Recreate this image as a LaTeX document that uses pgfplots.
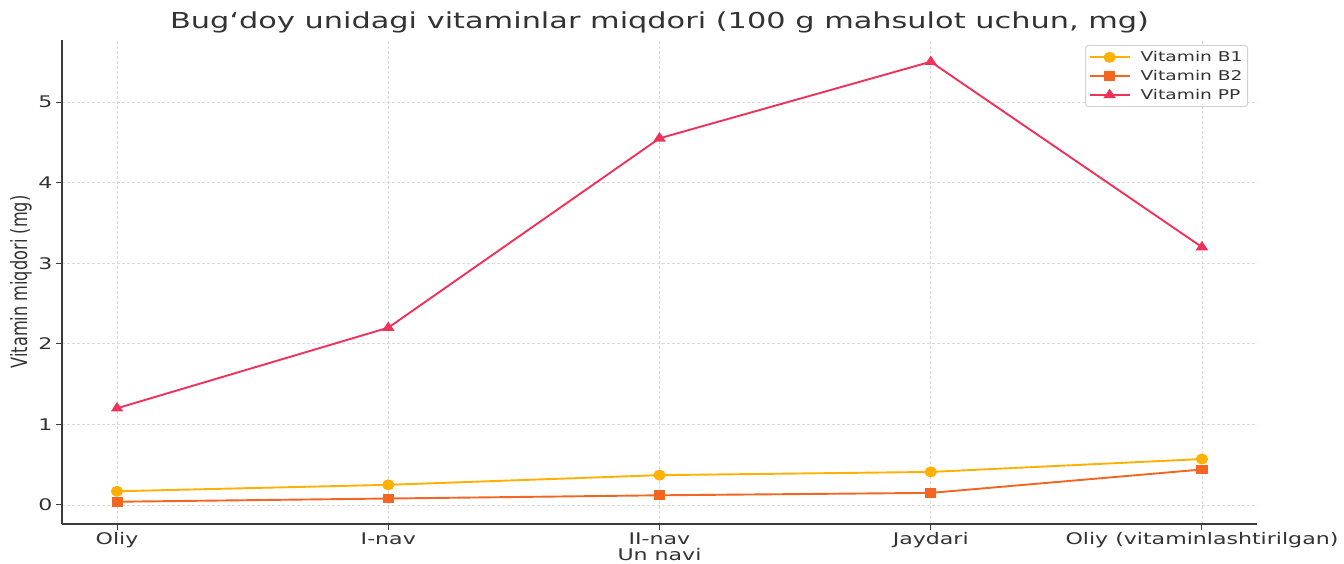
\documentclass[border=0pt]{standalone}
\usepackage{pgfplots}
\pgfplotsset{compat=1.18}
\usepackage{graphicx}
\usepackage{fontspec}
\setmainfont[FakeStretch=1.38]{DejaVu Sans}
\newfontfamily\plainfont{DejaVu Sans}
\definecolor{cB}{RGB}{255,176,0}
\definecolor{cBB}{RGB}{242,102,34}
\definecolor{cPP}{RGB}{240,50,90}
\definecolor{ax}{RGB}{60,60,60}
\begin{document}
\begin{tikzpicture}
\begin{axis}[
  scale only axis, width=1195pt, height=484pt,
  xmin=-0.203, xmax=4.203, ymin=-0.236, ymax=5.77,
  axis x line*=bottom, axis y line*=left,
  axis line style={ax, line width=1.8pt},
  xtick={0,1,2,3,4},
  xticklabels={Oliy,I-nav,II-nav,Jaydari,Oliy (vitaminlashtirilgan)},
  ytick={0,1,2,3,4,5},
  tick align=outside, tick style={ax, line width=1pt}, major tick length=6pt,
  grid=major, grid style={dash pattern=on 3pt off 2pt, gray!30, line width=0.8pt},
  ticklabel style={font=\fontsize{16}{19}\selectfont, text=black!80},
  xticklabel style={yshift=1pt},
  /pgf/number format/assume math mode=true,
  xlabel={Un navi}, ylabel={\scalebox{1}[1.38]{\plainfont Vitamin miqdori (mg)}},
  label style={font=\fontsize{16}{19}\selectfont, text=black!80},
  xlabel style={at={(axis description cs:0.5,-0.064)}, anchor=center},
  ylabel style={at={(axis description cs:-0.0343,0.5)}, anchor=center, font=\fontsize{16.2}{19}\selectfont},
  title={Bug‘doy unidagi vitaminlar miqdori (100 g mahsulot uchun, mg)},
  title style={font=\fontsize{22}{25}\selectfont, text=black!80, at={(axis description cs:0.5,1)}, anchor=base, yshift=5pt},
  legend style={font=\fontsize{13.5}{16}\selectfont, draw=gray!35, rounded corners=3pt, line width=1pt, at={(axis description cs:0.9925,0.9897)}, anchor=north east, row sep=3pt, inner xsep=3pt, inner ysep=4pt, text=black!80},
  legend cell align=left,
  legend image code/.code={\draw[#1, mark repeat=2, mark phase=2] plot coordinates {(0pt,0pt) (20pt,0pt) (40pt,0pt)}; \path (48pt,0pt);},
  every axis plot/.append style={line width=1.9pt},
]
\addplot[cB, mark=*, mark size=4.5pt, mark options={xscale=1.15}] coordinates {(0,0.17) (1,0.25) (2,0.37) (3,0.41) (4,0.57)};
\addlegendentry{Vitamin B1}
\addplot[cBB, mark=square*, mark size=4pt, mark options={xscale=1.15}] coordinates {(0,0.04) (1,0.08) (2,0.12) (3,0.15) (4,0.44)};
\addlegendentry{Vitamin B2}
\addplot[cPP, mark=triangle*, mark size=4.5pt, mark options={xscale=1.15}] coordinates {(0,1.2) (1,2.2) (2,4.55) (3,5.5) (4,3.2)};
\addlegendentry{Vitamin PP}
\end{axis}
\pgfresetboundingbox
\path ([xshift=-62pt,yshift=-40pt]current axis.south west) rectangle ([xshift=87pt,yshift=40pt]current axis.north east);
\end{tikzpicture}
\end{document}
